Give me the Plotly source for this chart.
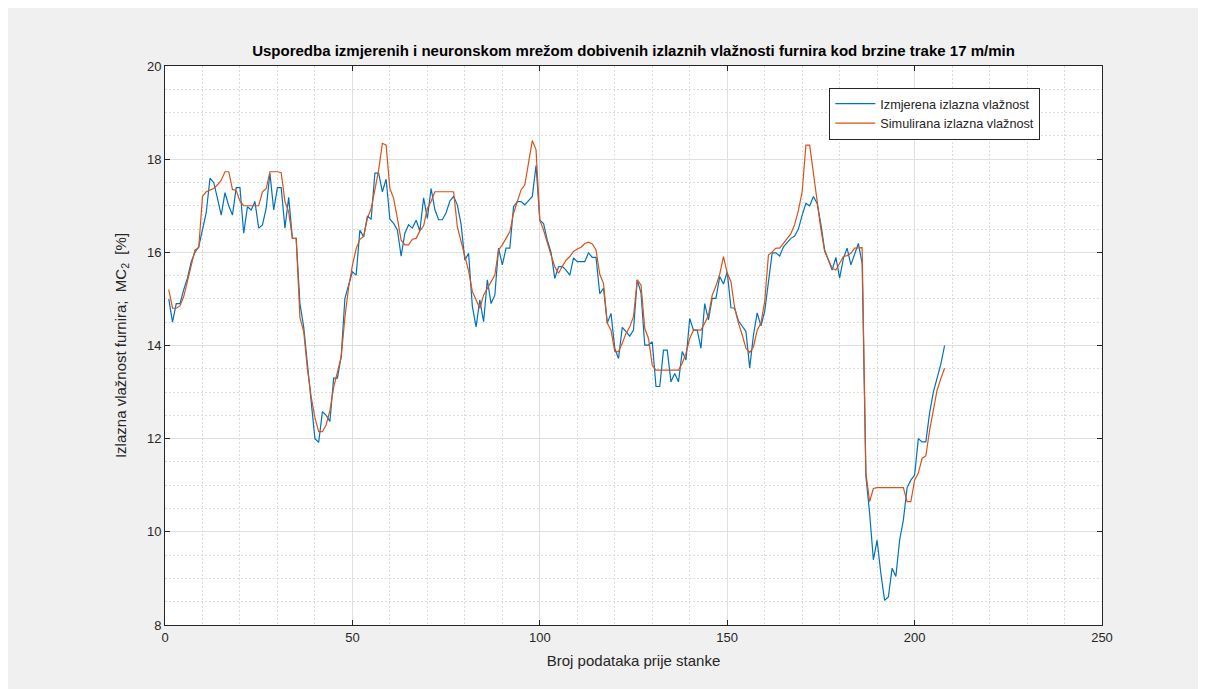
import plotly.graph_objects as go

# ---- data ----
izmjerena = [
    15.0, 14.5, 14.9, 14.9, 15.2, 15.45, 15.8, 16.0, 16.12, 16.5,
    16.85, 17.59, 17.5, 17.16, 16.8, 17.28, 17.0, 16.8, 17.39, 17.39,
    16.41, 16.98, 16.91, 17.09, 16.52, 16.59, 16.95, 17.7, 16.91, 17.39,
    17.39, 16.52, 17.18, 16.3, 16.3, 14.9, 14.4, 13.6, 12.8, 12.0,
    11.92, 12.58, 12.5, 12.37, 13.3, 13.3, 13.76, 15.01, 15.3, 15.58,
    15.51, 16.48, 16.33, 16.78, 16.71, 17.7, 17.7, 17.3, 17.57, 16.71,
    16.62, 16.48, 15.92, 16.41, 16.59, 16.52, 16.69, 16.46, 17.17, 16.73,
    17.37, 16.92, 16.7, 16.7, 16.85, 17.1, 17.2, 17.02, 16.6, 15.83,
    15.98, 14.84, 14.4, 14.98, 14.51, 15.41, 14.9, 15.08, 16.09, 15.73,
    16.09, 16.09, 16.98, 17.09, 17.09, 17.02, 17.11, 17.2, 17.87, 16.69,
    16.62, 16.26, 16.0, 15.44, 15.69, 15.7, 15.62, 15.51, 15.88, 15.8,
    15.8, 15.8, 15.99, 15.89, 15.89, 15.11, 15.23, 14.48, 14.69, 13.94,
    13.72, 14.39, 14.3, 14.2, 14.33, 15.41, 15.13, 14.01, 14.01, 14.08,
    13.12, 13.12, 13.9, 13.9, 13.22, 13.4, 13.22, 13.87, 13.69, 14.58,
    14.33, 14.33, 13.94, 14.9, 14.55, 15.01, 15.01, 15.48, 15.32, 15.58,
    14.81, 14.8, 14.53, 14.4, 14.3, 13.52, 14.22, 14.7, 14.42, 14.73,
    15.37, 15.99, 15.99, 15.92, 16.12, 16.2, 16.3, 16.35, 16.5, 16.8,
    17.05, 17.0, 17.2, 17.05, 16.6, 16.05, 15.84, 15.62, 15.89, 15.45,
    15.87, 16.09, 15.73, 15.98, 16.19, 15.76, 11.2, 10.4, 9.4, 9.82,
    9.1, 8.53, 8.6, 9.22, 9.04, 9.82, 10.25, 10.95, 11.11, 11.22,
    12.0, 11.93, 11.93, 12.55, 13.0, 13.3, 13.6, 14.0,
]

simulirana = [
    15.2, 14.8, 14.8, 14.85, 15.05, 15.4, 15.75, 16.05, 16.1, 17.2,
    17.3, 17.33, 17.37, 17.45, 17.55, 17.73, 17.73, 17.35, 17.33, 17.1,
    17.0, 17.0, 17.0, 17.0, 17.0, 17.3, 17.37, 17.73, 17.73, 17.73,
    17.71, 17.09, 16.87, 16.3, 16.3, 14.6, 14.3, 13.5, 12.9, 12.45,
    12.15, 12.15, 12.3, 12.6, 13.1, 13.45, 13.75, 14.6, 15.25, 15.72,
    16.08, 16.28, 16.34, 16.73, 16.94, 17.34, 17.77, 18.34, 18.3, 17.37,
    17.16, 16.73, 16.26, 16.16, 16.16, 16.28, 16.3, 16.46, 16.57, 16.94,
    17.09, 17.3, 17.3, 17.3, 17.3, 17.3, 17.3, 16.55, 16.24, 15.95,
    15.6, 15.16, 14.98, 14.8, 15.08, 15.23, 15.37, 15.51, 16.05, 16.16,
    16.3, 16.44, 16.84, 17.09, 17.34, 17.45, 17.9, 18.4, 18.2, 16.69,
    16.48, 16.19, 15.94, 15.69, 15.55, 15.7, 15.83, 15.91, 16.02, 16.07,
    16.11, 16.19, 16.22, 16.18, 16.05, 15.53, 15.33, 14.48, 14.33, 13.87,
    13.87, 14.05, 14.26, 14.4, 14.62, 15.41, 15.3, 14.37, 14.15, 13.58,
    13.47, 13.47, 13.47, 13.47, 13.47, 13.47, 13.47, 13.62, 13.83, 14.15,
    14.33, 14.33, 14.33, 14.48, 14.65, 15.08, 15.28, 15.53, 15.91, 15.56,
    15.37, 14.8, 14.48, 14.23, 13.94, 13.85, 13.97, 14.33, 14.48, 14.94,
    15.94, 16.01, 16.09, 16.09, 16.19, 16.3, 16.4, 16.6, 16.9, 17.3,
    18.3, 18.3, 17.7, 17.1, 16.5, 16.02, 15.84, 15.66, 15.62, 15.75,
    15.91, 15.93, 15.98, 16.09, 16.1, 16.1, 11.26, 10.65, 10.93, 10.95,
    10.95, 10.95, 10.95, 10.95, 10.95, 10.95, 10.95, 10.65, 10.65, 11.11,
    11.26, 11.58, 11.63, 12.18, 12.61, 13.04, 13.29, 13.51,
]

indeksi = list(range(1, len(izmjerena) + 1))

naslov = "Usporedba izmjerenih i neuronskom mrežom dobivenih izlaznih vlažnosti furnira kod brzine trake 17 m/min"
x_naslov = "Broj podataka prije stanke"
y_naslov = "Izlazna vlažnost furnira;  MC<sub>2</sub>  [%]"
serije = ["Izmjerena izlazna vlažnost", "Simulirana izlazna vlažnost"]

FONT = "Liberation Sans, Arial, Helvetica, sans-serif"
AX = "#262626"

fig = go.Figure()
fig.add_trace(go.Scatter(x=indeksi, y=izmjerena, mode="lines", name=serije[0],
                         line=dict(color="#0072BD", width=1.2)))
fig.add_trace(go.Scatter(x=indeksi, y=simulirana, mode="lines", name=serije[1],
                         line=dict(color="#D95319", width=1.2)))

axis_common = dict(
    showline=True, linecolor=AX, linewidth=1, mirror="allticks",
    ticks="inside", ticklen=5, tickcolor=AX, tickwidth=1,
    showgrid=True, gridcolor="#dfdfdf", gridwidth=1,
    zeroline=False, tickfont=dict(family=FONT, size=13, color=AX),
)

fig.update_xaxes(range=[0, 250], dtick=50, tick0=0,
                 title=dict(text=x_naslov, font=dict(family=FONT, size=15, color=AX), standoff=11),
                 minor=dict(dtick=10, showgrid=True, gridcolor="#dcdcdc", griddash="2px,2px", ticks=""),
                 **axis_common)
fig.update_yaxes(range=[8, 20], dtick=2, tick0=8,
                 title=dict(text=y_naslov, font=dict(family=FONT, size=15, color=AX), standoff=16),
                 minor=dict(dtick=0.5, showgrid=True, gridcolor="#dcdcdc", griddash="2px,2px", ticks=""),
                 **axis_common)

fig.update_layout(
    width=1206, height=689,
    margin=dict(l=157, r=112, t=58, b=72),
    paper_bgcolor="#f0f0f0", plot_bgcolor="white",
    title=dict(text="<b>" + naslov + "</b>", x=(165 + 1102) / 2 / 1206 - 8 / 1206, xanchor="center",
               y=1 - 43 / 689, yanchor="middle",
               font=dict(family=FONT, size=15, color="black")),
    legend=dict(x=0.709, y=0.961, xanchor="left", yanchor="top",
                bgcolor="white", bordercolor=AX, borderwidth=1, itemwidth=40,
                font=dict(family=FONT, size=12.7, color=AX), tracegroupgap=0),
    showlegend=True,
)

fig.write_html("out.html")
